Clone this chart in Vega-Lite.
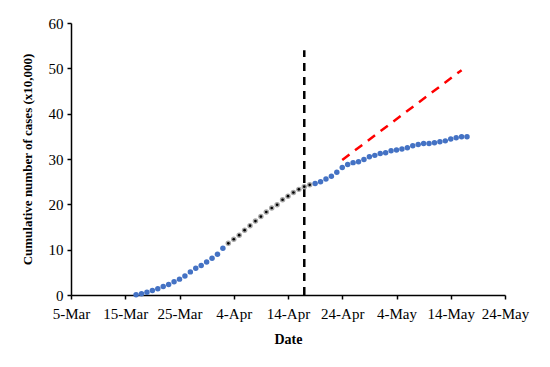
{
  "$schema": "https://vega.github.io/schema/vega-lite/v6.json",
  "width": 434,
  "height": 272,
  "autosize": {"type": "none"},
  "padding": {"left": 71, "top": 23, "right": 45, "bottom": 72},
  "background": "white",
  "config": {
    "view": {"stroke": null},
    "font": "Liberation Serif",
    "axis": {
      "labelFont": "Liberation Serif",
      "titleFont": "Liberation Serif",
      "labelColor": "#000000",
      "titleColor": "#000000",
      "domainColor": "#000000",
      "tickColor": "#000000",
      "domainWidth": 1.5,
      "tickWidth": 1.5,
      "tickSize": 4,
      "grid": false,
      "labelFontSize": 15,
      "labelFlush": false,
      "titleFontWeight": "bold"
    }
  },
  "datasets": {
    "blue": [
      {"date": "2020-03-17", "value": 0.05},
      {"date": "2020-03-18", "value": 0.3},
      {"date": "2020-03-19", "value": 0.6},
      {"date": "2020-03-20", "value": 1.0},
      {"date": "2020-03-21", "value": 1.4},
      {"date": "2020-03-22", "value": 1.9},
      {"date": "2020-03-23", "value": 2.3},
      {"date": "2020-03-24", "value": 2.9},
      {"date": "2020-03-25", "value": 3.5},
      {"date": "2020-03-26", "value": 4.2},
      {"date": "2020-03-27", "value": 5.1},
      {"date": "2020-03-28", "value": 5.9},
      {"date": "2020-03-29", "value": 6.5},
      {"date": "2020-03-30", "value": 7.3},
      {"date": "2020-03-31", "value": 8.1},
      {"date": "2020-04-01", "value": 9.0},
      {"date": "2020-04-02", "value": 10.3},
      {"date": "2020-04-19", "value": 24.6},
      {"date": "2020-04-20", "value": 25.0},
      {"date": "2020-04-21", "value": 25.6},
      {"date": "2020-04-22", "value": 26.2},
      {"date": "2020-04-23", "value": 27.1},
      {"date": "2020-04-24", "value": 28.1},
      {"date": "2020-04-25", "value": 28.8},
      {"date": "2020-04-26", "value": 29.2},
      {"date": "2020-04-27", "value": 29.4},
      {"date": "2020-04-28", "value": 29.9},
      {"date": "2020-04-29", "value": 30.5},
      {"date": "2020-04-30", "value": 30.8},
      {"date": "2020-05-01", "value": 31.2},
      {"date": "2020-05-02", "value": 31.4},
      {"date": "2020-05-03", "value": 31.8},
      {"date": "2020-05-04", "value": 32.0},
      {"date": "2020-05-05", "value": 32.2},
      {"date": "2020-05-06", "value": 32.5},
      {"date": "2020-05-07", "value": 32.9},
      {"date": "2020-05-08", "value": 33.2},
      {"date": "2020-05-09", "value": 33.4},
      {"date": "2020-05-10", "value": 33.4},
      {"date": "2020-05-11", "value": 33.6},
      {"date": "2020-05-12", "value": 33.8},
      {"date": "2020-05-13", "value": 34.0},
      {"date": "2020-05-14", "value": 34.4},
      {"date": "2020-05-15", "value": 34.7},
      {"date": "2020-05-16", "value": 34.9},
      {"date": "2020-05-17", "value": 34.9}
    ],
    "gray": [
      {"date": "2020-04-03", "value": 11.4},
      {"date": "2020-04-04", "value": 12.3},
      {"date": "2020-04-05", "value": 13.2},
      {"date": "2020-04-06", "value": 14.3},
      {"date": "2020-04-07", "value": 15.3},
      {"date": "2020-04-08", "value": 16.3},
      {"date": "2020-04-09", "value": 17.3},
      {"date": "2020-04-10", "value": 18.3},
      {"date": "2020-04-11", "value": 19.2},
      {"date": "2020-04-12", "value": 19.9},
      {"date": "2020-04-13", "value": 21.0},
      {"date": "2020-04-14", "value": 21.8},
      {"date": "2020-04-15", "value": 22.6},
      {"date": "2020-04-16", "value": 23.3},
      {"date": "2020-04-17", "value": 23.9},
      {"date": "2020-04-18", "value": 24.3}
    ],
    "red": [
      {"date": "2020-04-24", "value": 29.8},
      {"date": "2020-05-16", "value": 49.6}
    ],
    "vline": [
      {"date": "2020-04-17", "value": 0, "value2": 54}
    ]
  },
  "encoding": {
    "x": {
      "field": "date",
      "type": "temporal",
      "scale": {
        "type": "utc",
        "domain": [
          {"year": 2020, "month": 3, "date": 5, "utc": true},
          {"year": 2020, "month": 5, "date": 24, "utc": true}
        ]
      },
      "axis": {
        "title": "Date",
        "titleFontSize": 14,
        "titlePadding": 11,
        "format": "%-d-%b",
        "labelPadding": 7,
        "labelOverlap": false,
        "values": [
          {"year": 2020, "month": 3, "date": 5, "utc": true},
          {"year": 2020, "month": 3, "date": 15, "utc": true},
          {"year": 2020, "month": 3, "date": 25, "utc": true},
          {"year": 2020, "month": 4, "date": 4, "utc": true},
          {"year": 2020, "month": 4, "date": 14, "utc": true},
          {"year": 2020, "month": 4, "date": 24, "utc": true},
          {"year": 2020, "month": 5, "date": 4, "utc": true},
          {"year": 2020, "month": 5, "date": 14, "utc": true},
          {"year": 2020, "month": 5, "date": 24, "utc": true}
        ]
      }
    },
    "y": {
      "field": "value",
      "type": "quantitative",
      "scale": {"domain": [0, 60], "nice": false},
      "axis": {
        "title": "Cumulative number of cases (x10,000)",
        "titleFontSize": 13,
        "titlePadding": 14,
        "values": [0, 10, 20, 30, 40, 50, 60],
        "labelPadding": 4
      }
    }
  },
  "layer": [
    {
      "data": {"name": "vline"},
      "mark": {"type": "rule", "color": "#000000", "strokeWidth": 2.5, "strokeDash": [8, 6]},
      "encoding": {"y2": {"field": "value2"}}
    },
    {
      "data": {"name": "red"},
      "mark": {"type": "line", "color": "#FF0000", "strokeWidth": 2.5, "strokeDash": [9, 7]},
      "encoding": {}
    },
    {
      "data": {"name": "blue"},
      "mark": {"type": "circle", "color": "#4472C4", "opacity": 1, "size": 30}
    },
    {
      "data": {"name": "gray"},
      "mark": {"type": "circle", "color": "#A6A6A6", "opacity": 1, "size": 30}
    },
    {
      "data": {"name": "gray"},
      "mark": {"type": "circle", "color": "#000000", "opacity": 1, "size": 7}
    }
  ]
}
